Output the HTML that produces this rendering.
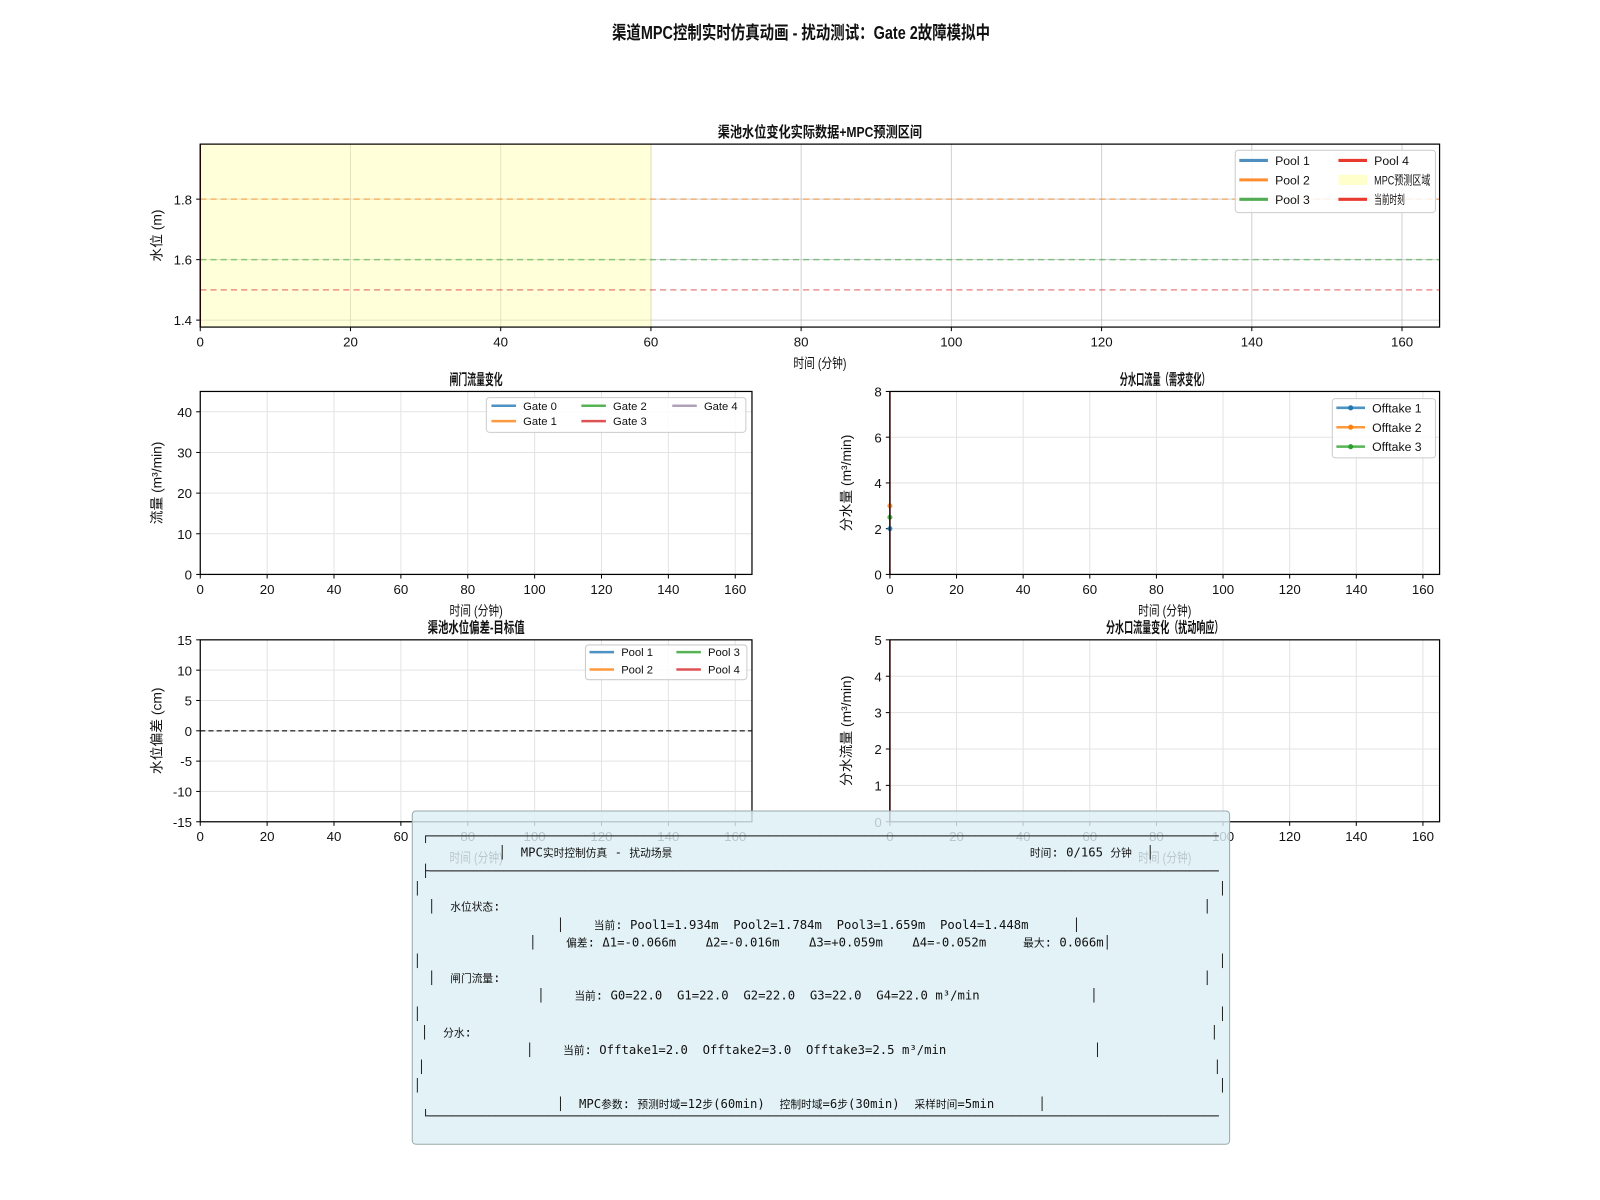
<!DOCTYPE html>
<html><head><meta charset="utf-8">
<style>
html,body{margin:0;padding:0;background:#fff;}
#wrap{position:relative;width:1566px;height:1174px;transform:scale(1.0217,1.0221);transform-origin:0 0;overflow:hidden;font-family:"Liberation Sans","DejaVu Sans","Noto Sans CJK SC",sans-serif;}
svg{position:absolute;left:0;top:0;}
#infobox{position:absolute;left:403px;top:793px;width:799px;height:325px;background:rgba(221,239,245,0.82);border:1px solid #9aa;border-radius:4px;}
.mono{position:absolute;font-family:"DejaVu Sans Mono","Liberation Mono","Noto Sans CJK SC",monospace;font-size:12px;white-space:pre;color:#111;line-height:14px;}
.mono .c{font-size:10.5px;}
</style></head>
<body>
<div id="wrap">
<svg id="chart" width="1566" height="1174" viewBox="0 0 1566 1174"></svg>
<div id="infobox"></div>
</div>
<script>
// ---- data ----
const poolNames = ["Pool 1","Pool 2","Pool 3","Pool 4"];
const poolTargets = [2.0, 1.8, 1.6, 1.5];
const mpcWindow = [0, 60];
const gateNames = ["Gate 0","Gate 1","Gate 2","Gate 3","Gate 4"];
const offtakeNames = ["Offtake 1","Offtake 2","Offtake 3"];
const offtakeValues = [2.0, 3.0, 2.5];
const offtakeTime = [0, 0, 0];
const currentTime = 0;
const xTicks = [0,20,40,60,80,100,120,140,160];
const topYTicks = [1.4,1.6,1.8];
const gateYTicks = [0,10,20,30,40];
const offYTicks = [0,2,4,6,8];
const devYTicks = [-15,-10,-5,0,5,10,15];
const dflowYTicks = [0,1,2,3,4,5];

const poolColors = ["#1f77b4","#ff7f0e","#2ca02c","#d62728"];
const gateColors = ["#1f77b4","#ff7f0e","#2ca02c","#d62728","#9e8aa6"];
const NS = "http://www.w3.org/2000/svg";
const svg = document.getElementById("chart");
function el(tag, attrs, parent){const e=document.createElementNS(NS,tag);for(const k in attrs)e.setAttribute(k,attrs[k]);(parent||svg).appendChild(e);return e;}
function txt(x,y,s,size,anchor,extra,parent){const t=el("text",Object.assign({x:x,y:y,"font-size":size,"text-anchor":anchor||"middle",fill:"#111","font-family":"Liberation Sans, DejaVu Sans, Noto Sans CJK SC, sans-serif"},extra||{}),parent);t.textContent=s;return t;}

function makeAxes(name, x0,x1,y0,y1, xmin,xmax,ymin,ymax, yticks, title, titleW, ylabel){
  const g = el("g",{});
  
  
  const sx=v=>x0+(v-xmin)/(xmax-xmin)*(x1-x0);
  const sy=v=>y1-(v-ymin)/(ymax-ymin)*(y1-y0);
  el("rect",{x:x0,y:y0,width:x1-x0,height:y1-y0,fill:"#fff"},g);
  const grid=el("g",{},g);
  xTicks.forEach(v=>{el("line",{x1:sx(v),x2:sx(v),y1:y0,y2:y1,stroke:"#e3e3e3","stroke-width":1},grid);});
  yticks.forEach(v=>{el("line",{x1:x0,x2:x1,y1:sy(v),y2:sy(v),stroke:"#e3e3e3","stroke-width":1},grid);});
  const tk=el("g",{},g);
  
  
  xTicks.forEach(v=>{el("line",{x1:sx(v),x2:sx(v),y1:y1,y2:y1+4,stroke:"#000"},tk);txt(sx(v),y1+19,String(v),13,"middle",{},tk);});
  yticks.forEach(v=>{el("line",{x1:x0-4,x2:x0,y1:sy(v),y2:sy(v),stroke:"#000"},tk);txt(x0-8,sy(v)+5,String(v),13,"end",{},tk);});
  const t=txt((x0+x1)/2,y0-7,title,14.5,"middle",{"font-weight":"bold",textLength:titleW,lengthAdjust:"spacingAndGlyphs"},g);
  
  
  const xl=txt((x0+x1)/2,y1+40,"时间 (分钟)",13.5,"middle",{textLength:52,lengthAdjust:"spacingAndGlyphs"},g);
  
  
  const yx=x0-38;
  const yl=txt(yx,(y0+y1)/2,ylabel,13.5,"middle",{transform:`rotate(-90 ${yx} ${(y0+y1)/2})`},g);
  
  
  return {g,sx,sy,frame:()=>el("rect",{x:x0,y:y0,width:x1-x0,height:y1-y0,fill:"none",stroke:"#000","stroke-width":1.2},g),x0,x1,y0,y1};
}

// main title
const mt=txt(784,38,"渠道MPC控制实时仿真动画 - 扰动测试：Gate 2故障模拟中",18,"middle",{"font-weight":"bold",textLength:370,lengthAdjust:"spacingAndGlyphs"});



// ---- top axes ----
const A=makeAxes("water-level-chart",196,1409,141,320,0,165,1.377,1.982,topYTicks,"渠池水位变化实际数据+MPC预测区间",200,"水位 (m)");
const clipA=el("clipPath",{id:"clipA"});el("rect",{x:196,y:141,width:1213,height:179},clipA);
const band=el("rect",{x:A.sx(mpcWindow[0]),y:141,width:A.sx(mpcWindow[1])-A.sx(mpcWindow[0]),height:179,fill:"#ffffcc","fill-opacity":0.75},A.g);


xTicks.forEach(v=>{el("line",{x1:A.sx(v),x2:A.sx(v),y1:141,y2:320,stroke:"#000","stroke-opacity":0.08}, A.g);});
topYTicks.forEach(v=>{el("line",{x1:196,x2:1409,y1:A.sy(v),y2:A.sy(v),stroke:"#000","stroke-opacity":0.08},A.g);});
const tg=el("g",{"clip-path":"url(#clipA)"},A.g);
poolTargets.forEach((v,i)=>{
  const l=el("line",{x1:196,x2:1409,y1:A.sy(v),y2:A.sy(v),stroke:poolColors[i],"stroke-opacity":0.5,"stroke-width":1.5,"stroke-dasharray":"6,4"},tg);
  
  
});
const nowA=el("line",{x1:A.sx(currentTime),x2:A.sx(currentTime),y1:141,y2:320,stroke:"#e41a1c","stroke-width":1.5},A.g);


A.frame();
(function(){
  const g=el("g",{});
  
  
  el("rect",{x:1209,y:147,width:196,height:61,fill:"#fff","fill-opacity":0.85,stroke:"#ccc",rx:3},g);
  const items=[["Pool 1","#4f8fbf","line",0],["Pool 2","#ff8c2e","line",0],["Pool 3","#52ab52","line",0],["Pool 4","#e8392f","line",0],["MPC预测区域","#ffffcc","patch",55],["当前时刻","#e8392f","line",30]];
  items.forEach((it,i)=>{
    const col=Math.floor(i/3),row=i%3;const lx=col?1310:1213,ly=157+row*19;
    if(it[2]==="line")el("line",{x1:lx,x2:lx+28,y1:ly,y2:ly,stroke:it[1],"stroke-width":3},g);
    else el("rect",{x:lx,y:ly-5,width:28,height:10,fill:it[1]},g);
    const ex=it[3]?{textLength:it[3],lengthAdjust:"spacingAndGlyphs"}:{};
    txt(lx+35,ly+4.5,it[0],12,"start",ex,g);
  });
})();

// ---- gate flow ----
const B=makeAxes("gate-flow-chart",196,736,383,562,0,165,0,45,gateYTicks,"闸门流量变化",52,"流量 (m³/min)");
B.frame();
(function(){
  const g=el("g",{});
  
  
  el("rect",{x:476,y:389,width:254,height:34,fill:"#fff","fill-opacity":0.85,stroke:"#ccc",rx:3},g);
  const pos=[[481,397],[481,412],[569,397],[569,412],[658,397]];
  gateNames.forEach((n,i)=>{const[lx,ly]=pos[i];el("line",{x1:lx,x2:lx+24,y1:ly,y2:ly,stroke:gateColors[i],"stroke-width":2.5,"stroke-opacity":0.8},g);txt(lx+31,ly+4,n,11,"start",{},g);});
})();

// ---- offtake ----
const C=makeAxes("offtake-flow-chart",871,1409,383,562,0,165,0,8,offYTicks,"分水口流量（需求变化）",88,"分水量 (m³/min)");
const nowC=el("line",{x1:C.sx(currentTime),x2:C.sx(currentTime),y1:383,y2:562,stroke:"#e41a1c","stroke-width":1.5},C.g);


offtakeValues.forEach((v,i)=>{
  const c=el("circle",{cx:C.sx(offtakeTime[i]),cy:C.sy(v),r:2.5,fill:poolColors[i],"fill-opacity":0.8},C.g);
  
  
});
C.frame();
(function(){
  const g=el("g",{});
  
  
  el("rect",{x:1304,y:390,width:101,height:58,fill:"#fff","fill-opacity":0.85,stroke:"#ccc",rx:3},g);
  offtakeNames.forEach((n,i)=>{const ly=399+i*19;el("line",{x1:1308,x2:1336,y1:ly,y2:ly,stroke:poolColors[i],"stroke-width":2.5,"stroke-opacity":0.8},g);el("circle",{cx:1322,cy:ly,r:2.5,fill:poolColors[i]},g);txt(1343,ly+4.5,n,12,"start",{},g);});
})();

// ---- deviation ----
const D=makeAxes("level-deviation-chart",196,736,626,804,0,165,-15,15,devYTicks,"渠池水位偏差-目标值",95,"水位偏差 (cm)");
const zl=el("line",{x1:196,x2:736,y1:D.sy(0),y2:D.sy(0),stroke:"#333","stroke-width":1.3,"stroke-dasharray":"5,3"},D.g);


D.frame();
(function(){
  const g=el("g",{});
  
  
  el("rect",{x:573,y:631,width:158,height:34,fill:"#fff","fill-opacity":0.85,stroke:"#ccc",rx:3},g);
  const pos=[[577,638],[577,655],[662,638],[662,655]];
  poolNames.forEach((n,i)=>{const[lx,ly]=pos[i];el("line",{x1:lx,x2:lx+24,y1:ly,y2:ly,stroke:poolColors[i],"stroke-width":2.5,"stroke-opacity":0.8},g);txt(lx+31,ly+4,n,11,"start",{},g);});
})();

// ---- offtake flow detail ----
const E=makeAxes("offtake-detail-chart",871,1409,626,804,0,165,0,5,dflowYTicks,"分水口流量变化（扰动响应）",115,"分水流量 (m³/min)");
const nowE=el("line",{x1:E.sx(currentTime),x2:E.sx(currentTime),y1:626,y2:804,stroke:"#e41a1c","stroke-width":1.5},E.g);


E.frame();

// ---- info panel text ----
const lines=[
 [413,818,"┌────────────────────────────────────────────────────────────────────────────────────────────────────────────┐"],
 [488,834,"│  MPC实时控制仿真 - 扰动场景"],[1008,834,"时间: 0/165 分钟  │"],
 [413,852,"├────────────────────────────────────────────────────────────────────────────────────────────────────────────┤"],
 [405,869,"│"],[1193,869,"│"],
 [419,887,"│  水位状态:"],[1178,887,"│"],
 [545,905,"│    当前: Pool1=1.934m  Pool2=1.784m  Pool3=1.659m  Pool4=1.448m      │"],
 [518,922,"│    偏差: Δ1=-0.066m    Δ2=-0.016m    Δ3=+0.059m    Δ4=-0.052m     最大: 0.066m│"],
 [405,940,"│"],[1193,940,"│"],
 [419,957,"│  闸门流量:"],[1178,957,"│"],
 [526,974,"│    当前: G0=22.0  G1=22.0  G2=22.0  G3=22.0  G4=22.0 m³/min               │"],
 [405,992,"│"],[1193,992,"│"],
 [412,1010,"│  分水:"],[1185,1010,"│"],
 [515,1027,"│    当前: Offtake1=2.0  Offtake2=3.0  Offtake3=2.5 m³/min                    │"],
 [409,1044,"│"],[1188,1044,"│"],
 [405,1062,"│"],[1193,1062,"│"],
 [545,1080,"│  MPC参数: 预测时域=12步(60min)  控制时域=6步(30min)  采样时间=5min      │"],
 [413,1092,"└────────────────────────────────────────────────────────────────────────────────────────────────────────────┘"]
];
const wrap=document.getElementById("wrap");
function esc(s){return s.replace(/&/g,"&amp;").replace(/</g,"&lt;");}
lines.forEach((l,i)=>{
  const d=document.createElement("div");
  d.className="mono";
  d.style.left=l[0]+"px";d.style.top=(l[1]-7)+"px";
  d.innerHTML=esc(l[2]).replace(/([\u3000-\u9fff\uff00-\uffef]+)/g,'<span class="c">$1</span>');
  if(l[2].startsWith("┌")||l[2].startsWith("├")||l[2].startsWith("└")){d.style.width="780px";d.style.overflow="hidden";}
  
  
  wrap.appendChild(d);
});
</script>
</body></html>
